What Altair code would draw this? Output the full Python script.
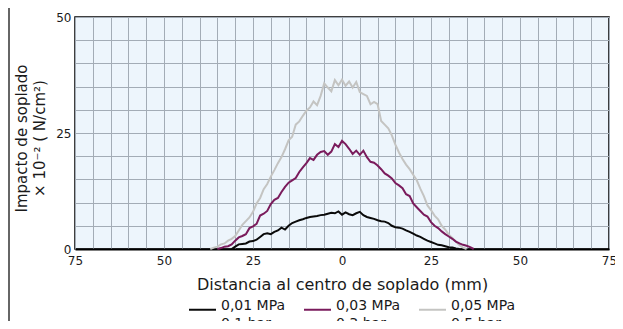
import altair as alt
import pandas as pd

# 0,01 MPa (0.1 bar)
x_001 = list(range(-31, 34))
y_001 = [0.0, 0.5, 1.0, 1.1, 1.2, 1.6, 1.7, 2.0, 2.6, 3.2,
         3.4, 3.2, 3.7, 4.0, 4.6, 4.2, 5.0, 5.6, 5.9, 6.2,
         6.4, 6.7, 6.9, 7.0, 7.1, 7.3, 7.4, 7.6, 7.8, 7.7,
         8.1, 7.4, 7.9, 7.5, 7.3, 7.7, 8.0, 7.3, 6.9, 6.7,
         6.5, 6.2, 6.0, 5.9, 5.6, 5.0, 4.7, 4.6, 4.4, 4.0,
         3.7, 3.3, 2.9, 2.6, 2.2, 1.8, 1.5, 1.2, 0.9, 0.8,
         0.6, 0.4, 0.3, 0.1, 0.0]

# 0,03 MPa (0.3 bar)
x_003 = list(range(-35, 38))
y_003 = [0.0, 0.2, 0.5, 0.6, 1.0, 1.8, 2.5, 2.8, 3.2, 4.5,
         4.9, 5.4, 7.2, 7.6, 8.2, 9.7, 10.6, 11.0, 12.3, 13.4,
         14.3, 14.8, 15.3, 16.6, 17.6, 18.5, 19.6, 19.2, 20.3, 20.9,
         21.1, 20.3, 21.0, 22.6, 22.0, 23.3, 22.6, 21.6, 20.5, 21.2,
         20.3, 21.2, 19.8, 18.8, 18.6, 18.0, 17.2, 16.3, 15.8, 15.2,
         14.2, 13.7, 13.1, 11.8, 11.4, 9.8, 9.0, 8.2, 7.4, 7.0,
         5.8, 5.0, 4.5, 3.8, 3.2, 2.7, 2.2, 1.6, 1.2, 0.9,
         0.7, 0.4, 0.0]

# 0,05 MPa (0.5 bar)
x_005 = list(range(-37, 36))
y_005 = [0.0, 0.3, 0.5, 1.0, 1.2, 1.8, 2.2, 2.8, 4.0, 5.2,
         6.0, 6.8, 8.0, 9.8, 11.0, 12.9, 14.0, 15.6, 17.0, 18.5,
         19.8, 21.5, 23.4, 24.2, 26.8, 27.5, 28.7, 29.8, 30.5, 31.8,
         31.0, 33.0, 35.7, 34.8, 34.0, 36.4, 35.3, 36.5, 35.2, 36.1,
         34.8, 36.0, 33.8, 33.4, 33.0, 31.2, 31.7, 31.2, 27.6, 26.8,
         26.0, 24.5, 22.5, 20.8, 19.4, 18.2, 17.2, 16.0, 14.8, 13.0,
         11.4, 9.4, 8.4, 7.2, 6.4, 5.0, 4.2, 3.1, 2.4, 1.6,
         0.8, 0.3, 0.0]

series_labels = ["0,01 MPa|0.1 bar", "0,03 MPa|0.3 bar", "0,05 MPa|0.5 bar"]
series_colors = ["#0a0a0a", "#7a1b5c", "#c4c4c2"]

x_ticks = list(range(-75, 80, 5))
y_ticks = list(range(0, 55, 5))

FONT = "DejaVu Sans"
GRID = "#a3acb6"

frames = []
for xs, ys, lab in [(x_005, y_005, series_labels[2]),
                    (x_003, y_003, series_labels[1]),
                    (x_001, y_001, series_labels[0])]:
    frames.append(pd.DataFrame({"x": xs, "y": ys, "serie": lab}))
df = pd.concat(frames, ignore_index=True)

lines = alt.Chart(df).mark_line(strokeWidth=2, interpolate="linear").encode(
    x=alt.X("x:Q",
            scale=alt.Scale(domain=[-75, 75], nice=False, zero=False),
            axis=alt.Axis(values=x_ticks,
                          labelExpr="datum.value % 25 === 0 ? abs(datum.value) : ''",
                          title="Distancia al centro de soplado (mm)",
                          titleFontSize=16, titleFont=FONT, titleFontWeight="normal",
                          titleColor="#1a1a1a", titleY=35, titleBaseline="middle",
                          labelFont=FONT, labelFontSize=12, labelColor="#1a1a1a",
                          labelPadding=6, ticks=False, grid=True,
                          gridColor=GRID, gridWidth=1,
                          domainColor="#000000", domainWidth=2,
                          labelFlush=False, labelOverlap=False)),
    y=alt.Y("y:Q",
            scale=alt.Scale(domain=[0, 50], nice=False),
            axis=alt.Axis(values=y_ticks,
                          labelExpr="datum.value % 25 === 0 ? datum.label : ''",
                          title=["Impacto de soplado", "× 10⁻² ( N/cm²)"],
                          titleFontSize=15, titleFont=FONT, titleFontWeight="normal",
                          titleColor="#1a1a1a", titleLineHeight=18,
                          titleX=-54, titleY=121, titleAngle=-90,
                          titleAlign="center", titleBaseline="middle",
                          labelFont=FONT, labelFontSize=12, labelColor="#1a1a1a",
                          labelPadding=4, ticks=False, grid=True,
                          gridColor=GRID, gridWidth=1,
                          domain=False, labelOverlap=False)),
    color=alt.Color("serie:N",
                    scale=alt.Scale(domain=series_labels, range=series_colors),
                    legend=alt.Legend(orient="none", legendX=113, legendY=278,
                                      direction="horizontal", columns=3, title=None,
                                      symbolType="stroke", symbolSize=729,
                                      symbolStrokeWidth=2,
                                      labelExpr="split(datum.label, '|')",
                                      labelFont=FONT, labelFontSize=14,
                                      labelColor="#1a1a1a",
                                      labelBaseline="alphabetic",
                                      labelOffset=4, columnPadding=14)),
)

border = alt.Chart(pd.DataFrame({"k": [0]})).mark_rule(
    color="#333333", strokeWidth=1.5
).encode(x=alt.value(-66), y=alt.value(-9), y2=alt.value(312))

chart = alt.layer(lines, border).properties(
    width=534, height=232,
    autosize=alt.AutoSizeParams(type="none"),
    padding={"left": 67, "top": 9, "right": 6, "bottom": 72},
).configure(
    background="white",
    style={"guide-label": {"lineHeight": 18}},
).configure_view(
    fill="#edf5fc", stroke="#000000", strokeWidth=1.5
)

chart.save("out.html", embed_options={"renderer": "svg", "actions": False})
